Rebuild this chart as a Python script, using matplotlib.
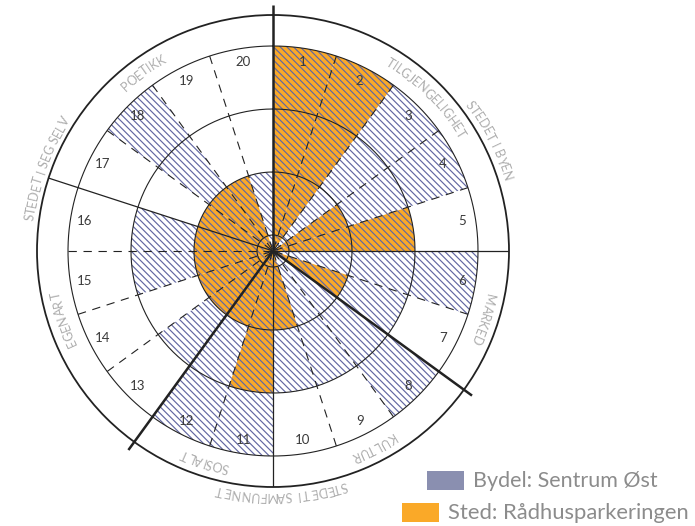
import numpy as np
import matplotlib
matplotlib.use("Agg")
import matplotlib.pyplot as plt
from matplotlib.patches import Rectangle
from matplotlib.font_manager import FontProperties, findfont, get_font

# sector numbers (clockwise from the top) and the two scores 0-3
sectors = list(range(1, 21))
bydel = [3, 3, 3, 3, 2, 3, 2, 3, 2, 2, 3, 3, 2, 1, 2, 2, 1, 3, 1, 1]   # Bydel: Sentrum Øst
sted = [3, 3, 0, 1, 2, 0, 1, 0, 0, 1, 2, 1, 1, 1, 1, 1, 1, 1, 1, 0]    # Sted: Rådhusparkeringen

legend_labels = ["Bydel: Sentrum Øst", "Sted: Rådhusparkeringen"]

# category labels in the ring and outside the circle (first/last sector)
inner_labels = ["TILGJENGELIGHET", "MARKED", "KULTUR", "SOSIALT", "EGENART", "POETIKK"]
inner_span = [(1, 5), (6, 7), (8, 10), (11, 12), (13, 16), (17, 20)]
outer_labels = ["STEDET I BYEN", "STEDET I SAMFUNNET", "STEDET I SEG SELV"]
outer_span = [(1, 7), (8, 12), (13, 20)]

ORANGE = "#FAA928"
HATCH = "#6267A2"
LEG_BLUE = "#8A8FB0"
LINE = "#222222"
FONT = "Lato"

plt.rcParams["hatch.color"] = HATCH
plt.rcParams["hatch.linewidth"] = 0.85

W, H, DPI = 695, 526, 100
CX, CY = 273, 251        # centre in pixels
R_OUT = 236              # outer circle, px
PXU = 63                 # px per score step
HOLE = 16 / PXU          # small hole in the middle


def rpx(px):
    return px / PXU - HOLE


fig = plt.figure(figsize=(W / DPI, H / DPI), dpi=DPI)
ax = fig.add_axes([(CX - R_OUT) / W, (H - CY - R_OUT) / H, 2 * R_OUT / W, 2 * R_OUT / H],
                  projection="polar")
ax.set_theta_zero_location("N")
ax.set_theta_direction(-1)
ax.set_ylim(-HOLE, rpx(R_OUT))
ax.set_xticks([])
ax.set_yticks([])
ax.grid(False)
ax.spines["polar"].set_linewidth(1.3)
ax.spines["polar"].set_color(LINE)
ax.spines["inner"].set_visible(False)

step = np.deg2rad(360 / len(sectors))
theta = np.arange(len(sectors)) * step
sted_a = np.array(sted, dtype=float)
bydel_a = np.array(bydel, dtype=float)

ax.bar(theta, np.where(sted_a > 0, sted_a + HOLE, 0), width=step, bottom=-HOLE,
       align="edge", color=ORANGE, linewidth=0, zorder=1)
ax.bar(theta, np.where(bydel_a > 0, bydel_a + HOLE, 0), width=step, bottom=-HOLE,
       align="edge", facecolor="none", edgecolor=HATCH, hatch="\\" * 5, linewidth=0, zorder=2)

# rings
tt = np.linspace(0, 2 * np.pi, 400)
for lev in [0, 1, 2, 3]:
    ax.plot(tt, np.full_like(tt, lev), color=LINE, lw=0.8, zorder=3)

# radial lines
starts = [s[0] for s in inner_span]
major = [s[0] for s in outer_span]
for k in sectors:
    a = (k - 1) * step
    if k in major:
        ax.plot([a, a], [-HOLE, rpx(246)], color=LINE, lw=1.8, zorder=4,
                clip_on=False, solid_capstyle="butt")
    elif k in starts:
        ax.plot([a, a], [-HOLE, rpx(R_OUT)], color=LINE, lw=0.9, zorder=4)
    else:
        ax.plot([a, a], [3, -HOLE], color=LINE, lw=0.8, zorder=4,
                linestyle=(0, (7.5, 6)))

# sector numbers
for k in sectors:
    ax.text((k - 0.5) * step, rpx(191), str(k), ha="center", va="center",
            fontsize=9.5, color="#3a3a3a", family=FONT, zorder=5)


def curved(text, centre_deg, r, size, color):
    fp = FontProperties(family=FONT, size=size)
    font = get_font(findfont(fp))
    font.set_size(size, DPI)
    adv = np.array([font.load_char(ord(c)).linearHoriAdvance / 65536 for c in text])
    pos = np.cumsum(adv) - adv / 2 - adv.sum() / 2
    for c, s in zip(text, pos):
        ang = centre_deg + np.degrees(s / r)
        ax.text(np.deg2rad(ang), rpx(r), c, rotation=-ang, rotation_mode="anchor",
                ha="center", va="center", fontproperties=fp, color=color,
                clip_on=False, zorder=5)


for lab, (a, b) in zip(inner_labels, inner_span):
    curved(lab, (a - 1 + b) / 2 * 18, 221, 9, "#adadad")
outer_centre = [63, 178, 290]
for lab, c in zip(outer_labels, outer_centre):
    curved(lab, c, 245, 9, "#adadad")

# legend
for (x, y), col, lab, fs in zip([(427, 471), (402, 503)], [LEG_BLUE, ORANGE],
                                legend_labels, [15.5, 15.8]):
    fig.add_artist(Rectangle((x / W, 1 - (y + 19) / H), 37 / W, 19 / H,
                             transform=fig.transFigure, color=col, lw=0))
    fig.text((x + 46) / W, 1 - (y + 10) / H, lab, ha="left", va="center",
             fontsize=fs, color="#8c8c8c", family=FONT)

fig.savefig("out.png", dpi=DPI)
